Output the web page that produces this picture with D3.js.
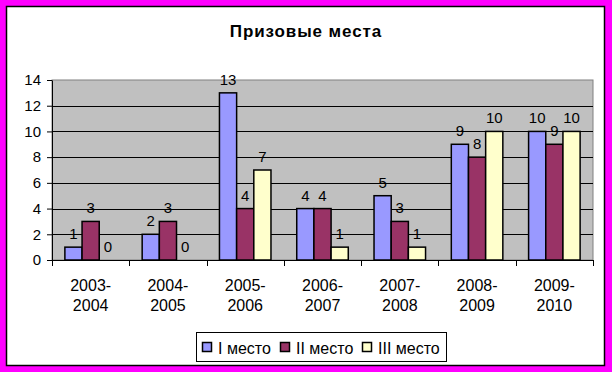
<!DOCTYPE html>
<html>
<head>
<meta charset="utf-8">
<script src="https://cdn.jsdelivr.net/npm/d3@7"></script>
<style>
  html, body { margin: 0; padding: 0; background: #ff00ff; }
  svg { display: block; }
  text { font-family: Arial, "Liberation Sans", sans-serif; }
</style>
</head>
<body>
<div id="chart"></div>
<script>
// Chart data
var seasons = ['2003-2004', '2004-2005', '2005-2006', '2006-2007', '2007-2008', '2008-2009', '2009-2010'];
var seriesNames = ['I место', 'II место', 'III место'];
var firstPlace = [1, 2, 13, 4, 5, 9, 10];
var secondPlace = [3, 3, 4, 4, 3, 8, 9];
var thirdPlace = [0, 0, 7, 1, 1, 10, 10];
var yTicks = [0, 2, 4, 6, 8, 10, 12, 14];

var colors = ['#9999ff', '#993366', '#ffffcc'];

var W = 612, H = 372;
var plot = { left: 52, top: 80, right: 593, bottom: 260 };

var svg = d3.select('#chart').append('svg')
  .attr('width', W)
  .attr('height', H);

// magenta frame + white panel
svg.append('rect')
  .attr('x', 0).attr('y', 0).attr('width', W).attr('height', H)
  .attr('fill', '#ff00ff');
svg.append('rect')
  .attr('x', 6.5).attr('y', 6.5).attr('width', 598).attr('height', 359)
  .attr('fill', '#ffffff')
  .attr('stroke', '#000').attr('stroke-width', 1.5);

// title
svg.append('text')
  .attr('x', 306).attr('y', 37)
  .attr('text-anchor', 'middle')
  .style('font-weight', 'bold')
  .style('font-size', '17px')
  .style('letter-spacing', '0.9px')
  .text('Призовые места');

var x0 = d3.scaleBand()
  .domain(seasons)
  .range([plot.left, plot.right])
  .paddingInner(0)
  .paddingOuter(0);

// 150% gap width: three bars take 3/4.5 of a category
var x1 = d3.scaleBand()
  .domain([0, 1, 2])
  .range([0, x0.bandwidth() * 3 / 4.5]);
var groupOffset = (x0.bandwidth() - x1.range()[1]) / 2;

var y = d3.scaleLinear()
  .domain([0, 14])
  .range([plot.bottom, plot.top]);

// plot area
svg.append('rect')
  .attr('x', plot.left).attr('y', plot.top)
  .attr('width', plot.right - plot.left)
  .attr('height', plot.bottom - plot.top)
  .attr('fill', '#c0c0c0')
  .attr('stroke', '#808080')
  .attr('stroke-width', 1);

// gridlines
svg.append('g')
  .selectAll('line')
  .data(yTicks.filter(function(d) { return d > 0 && d < 14; }))
  .enter()
  .append('line')
  .attr('x1', plot.left).attr('x2', plot.right)
  .attr('y1', function(d) { return Math.round(y(d)) + 0.5; })
  .attr('y2', function(d) { return Math.round(y(d)) + 0.5; })
  .attr('stroke', '#000')
  .attr('stroke-width', 1);

// y axis
var yAxis = svg.append('g')
  .attr('transform', 'translate(' + plot.left + ',0)')
  .call(d3.axisLeft(y).tickValues(yTicks).tickSize(5).tickSizeOuter(0).tickPadding(6));
yAxis.select('.domain').attr('stroke', '#000');
yAxis.selectAll('text')
  .style('font-size', '15px')
  .attr('fill', '#000');

// x axis
var xAxis = svg.append('g')
  .attr('transform', 'translate(0,' + plot.bottom + ')')
  .call(d3.axisBottom(x0).tickSize(0).tickFormat(''));
xAxis.select('.domain').attr('stroke', '#000');

// category boundary ticks
svg.append('g')
  .selectAll('line')
  .data(seasons.concat(['end']))
  .enter()
  .append('line')
  .attr('x1', function(d, i) { return Math.round(plot.left + i * x0.bandwidth()) + 0.5; })
  .attr('x2', function(d, i) { return Math.round(plot.left + i * x0.bandwidth()) + 0.5; })
  .attr('y1', plot.bottom)
  .attr('y2', plot.bottom + 6)
  .attr('stroke', '#000');

// category labels, two lines
var catLabels = svg.append('g')
  .selectAll('text')
  .data(seasons)
  .enter()
  .append('text')
  .attr('text-anchor', 'middle')
  .style('font-size', '16px')
  .attr('transform', function(d) { return 'translate(' + (x0(d) + x0.bandwidth() / 2) + ',291)'; });
catLabels.append('tspan')
  .attr('x', 0).attr('y', 0)
  .text(function(d) { return d.split('-')[0] + '-'; });
catLabels.append('tspan')
  .attr('x', 0).attr('y', 20)
  .text(function(d) { return d.split('-')[1]; });

// bars
var allSeries = [firstPlace, secondPlace, thirdPlace];
var groups = svg.append('g')
  .selectAll('g')
  .data(seasons)
  .enter()
  .append('g')
  .attr('transform', function(d) { return 'translate(' + (x0(d) + groupOffset) + ',0)'; });

groups.selectAll('rect')
  .data(function(d, i) {
    return allSeries.map(function(s, k) { return { k: k, v: s[i] }; });
  })
  .enter()
  .append('rect')
  .attr('x', function(d) { return x1(d.k); })
  .attr('y', function(d) { return y(d.v); })
  .attr('width', x1.bandwidth())
  .attr('height', function(d) { return y(0) - y(d.v); })
  .attr('fill', function(d) { return colors[d.k]; })
  .attr('stroke', '#000')
  .attr('stroke-width', 1.5);

// value labels
groups.selectAll('text')
  .data(function(d, i) {
    return allSeries.map(function(s, k) { return { k: k, v: s[i] }; });
  })
  .enter()
  .append('text')
  .attr('x', function(d) { return x1(d.k) + x1.bandwidth() / 2; })
  .attr('y', function(d) { return y(d.v) - 8; })
  .attr('text-anchor', 'middle')
  .style('font-size', '15px')
  .text(function(d) { return d.v; });

// legend
var legend = svg.append('g');
legend.append('rect')
  .attr('x', 196.5).attr('y', 332.5)
  .attr('width', 250).attr('height', 29)
  .attr('fill', '#fff')
  .attr('stroke', '#000');

var legendX = [202, 280, 362];
var items = legend.selectAll('g')
  .data(seriesNames)
  .enter()
  .append('g')
  .attr('transform', function(d, i) { return 'translate(' + legendX[i] + ',342)'; });
items.append('rect')
  .attr('x', 0.5).attr('y', 0.5)
  .attr('width', 9).attr('height', 9)
  .attr('fill', function(d, i) { return colors[i]; })
  .attr('stroke', '#000')
  .attr('stroke-width', 1.5);
items.append('text')
  .attr('x', 16).attr('y', 12)
  .style('font-size', '16px')
  .text(function(d) { return d; });
</script>
</body>
</html>
